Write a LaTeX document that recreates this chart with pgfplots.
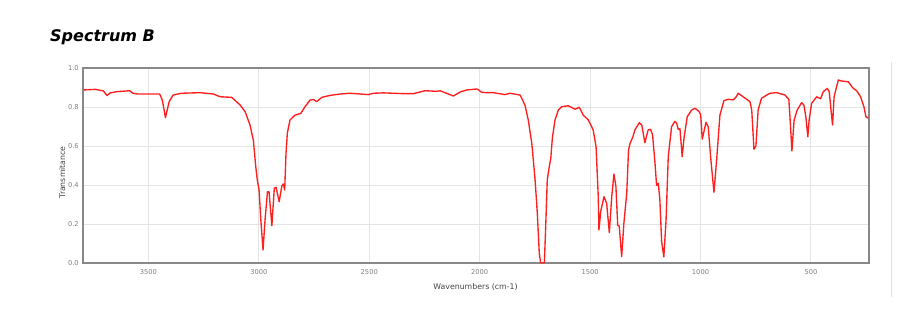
\documentclass[border=0pt]{standalone}
\usepackage{pgfplots}
\pgfplotsset{compat=1.18}
\usepackage{fontspec}
\setmainfont{DejaVu Sans}[BoldFont={DejaVu Sans Bold},ItalicFont={DejaVu Sans Oblique},BoldItalicFont={DejaVu Sans Bold Oblique}]
\definecolor{framec}{RGB}{136,136,136}
\definecolor{gridc}{RGB}{228,228,228}
\definecolor{tickc}{RGB}{125,125,125}
\definecolor{labc}{RGB}{68,68,68}
\definecolor{spec}{RGB}{255,30,30}
\begin{document}
\begin{tikzpicture}
\useasboundingbox (0pt,0pt) rectangle (900pt,335pt);
\draw[black!12, line width=0.8pt] (891pt,273pt) -- (891pt,38pt);
\node[anchor=base west, inner sep=0pt, font=\fontsize{16}{18}\selectfont\bfseries\itshape] at (50pt,293.3pt) {Spectrum B};
\begin{axis}[
  at={(83.3pt,71.7pt)}, anchor=south west,
  scale only axis, width=785.7pt, height=195pt,
  x dir=reverse, xmin=237, xmax=3795, ymin=0, ymax=1,
  xtick={500,1000,1500,2000,2500,3000,3500},
  ytick={0,0.2,0.4,0.6,0.8,1},
  grid=major, major grid style={gridc, line width=0.9pt},
  major tick length=0pt,
  axis line style={framec, line width=1.6pt},
  /pgf/number format/assume math mode=true,
  tick label style={font=\fontsize{6.7}{8}\selectfont, text=tickc},
  xticklabel style={anchor=center, yshift=-8.7pt, /pgf/number format/1000 sep={}},
  yticklabel style={xshift=-1pt, /pgf/number format/.cd, fixed, fixed zerofill, precision=1},
]
\addplot[spec, line width=1.35pt, line join=round] table {
w T
3794 0.889
3741 0.892
3704 0.884
3687 0.860
3675 0.873
3645 0.880
3585 0.885
3570 0.872
3548 0.868
3492 0.868
3449 0.868
3437 0.837
3423 0.747
3406 0.829
3388 0.863
3351 0.872
3266 0.875
3206 0.868
3175 0.854
3123 0.851
3085 0.812
3062 0.777
3040 0.709
3025 0.632
3014 0.495
3007 0.427
2999 0.376
2991 0.222
2981 0.068
2972 0.222
2961 0.367
2954 0.367
2941 0.193
2930 0.385
2922 0.390
2908 0.316
2896 0.396
2889 0.407
2883 0.376
2877 0.564
2871 0.667
2859 0.735
2836 0.760
2810 0.769
2791 0.803
2768 0.837
2753 0.840
2738 0.829
2715 0.851
2678 0.861
2632 0.868
2587 0.872
2504 0.865
2482 0.872
2436 0.874
2346 0.870
2300 0.870
2247 0.885
2194 0.882
2180 0.885
2157 0.875
2119 0.858
2089 0.878
2059 0.889
2011 0.894
1991 0.877
1968 0.875
1938 0.875
1885 0.865
1863 0.872
1817 0.863
1795 0.812
1780 0.735
1764 0.615
1749 0.427
1739 0.256
1730 0.051
1724 0.003
1707 0.003
1700 0.222
1694 0.427
1685 0.495
1678 0.538
1671 0.641
1659 0.735
1644 0.786
1629 0.803
1599 0.808
1568 0.790
1549 0.800
1531 0.760
1508 0.735
1486 0.684
1473 0.598
1463 0.342
1460 0.171
1452 0.265
1437 0.342
1425 0.308
1413 0.157
1402 0.342
1392 0.458
1383 0.393
1375 0.196
1368 0.190
1357 0.034
1347 0.205
1334 0.359
1326 0.580
1319 0.615
1307 0.646
1297 0.684
1277 0.721
1266 0.709
1252 0.618
1237 0.684
1226 0.687
1217 0.658
1206 0.513
1199 0.400
1191 0.410
1184 0.325
1176 0.111
1166 0.033
1156 0.222
1146 0.547
1131 0.700
1116 0.728
1108 0.718
1101 0.687
1093 0.690
1083 0.547
1074 0.649
1060 0.752
1040 0.786
1025 0.795
1006 0.778
999 0.760
992 0.637
975 0.723
965 0.700
953 0.530
939 0.364
927 0.530
912 0.760
894 0.834
874 0.841
852 0.838
840 0.851
829 0.872
807 0.854
776 0.829
768 0.786
758 0.585
749 0.602
739 0.786
724 0.846
686 0.872
655 0.875
618 0.863
600 0.841
595 0.752
586 0.576
576 0.735
562 0.786
542 0.824
532 0.812
523 0.752
514 0.649
508 0.735
497 0.820
474 0.854
456 0.844
444 0.880
426 0.897
417 0.880
409 0.786
402 0.709
395 0.854
376 0.940
361 0.935
331 0.931
308 0.897
293 0.885
275 0.854
260 0.803
251 0.752
240 0.744
};
\end{axis}
\node[font=\fontsize{7.8}{9}\selectfont, text=labc] at (475.5pt,48.3pt) {Wavenumbers (cm-1)};
\node[font=\fontsize{7.8}{9}\selectfont, text=labc, rotate=90] at (62.3pt,162.5pt) {Transmitance};
\end{tikzpicture}
\end{document}
